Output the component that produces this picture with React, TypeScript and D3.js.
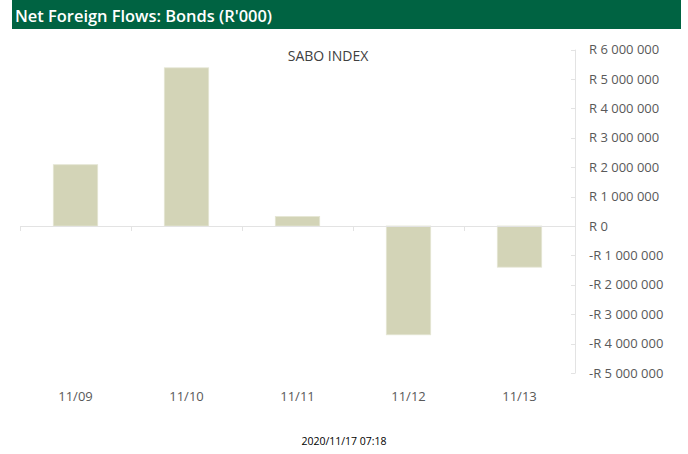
import React from "react";
import * as d3 from "d3";

const categories = ["11/09", "11/10", "11/11", "11/12", "11/13"];
const values = [2085000, 5380000, 320000, -3700000, -1400000];
const yTicks = [6000000, 5000000, 4000000, 3000000, 2000000, 1000000, 0, -1000000, -2000000, -3000000, -4000000, -5000000];
const title = "Net Foreign Flows: Bonds (R'000)";
const chartTitle = "SABO INDEX";
const timestamp = "2020/11/17 07:18";

const fmtNum = (v: number) => {
  const s = d3.format(",")(Math.abs(v)).replace(/,/g, " ");
  return (v < 0 ? "-R " : "R ") + s;
};

export default function App() {
  const W = 688, H = 454;
  const x = d3.scaleBand<string>().domain(categories).range([20, 575]).paddingInner(0.6).paddingOuter(0.3);
  const y = d3.scaleLinear().domain([-5000000, 6000000]).range([373, 49.6]);
  const y0 = y(0);
  const step = x.step();
  const font = "Open Sans, sans-serif";
  return (
    <svg width={W} height={H} style={{ position: "absolute", left: 0, top: 0, background: "#fff" }}>
      <rect x={12} y={0} width={669} height={29} fill="#006342" />
      <text x={15} y={22} fill="#fff" fontFamily={font} fontWeight={600} fontSize={16} textLength={257} lengthAdjust="spacingAndGlyphs">{title}</text>
      <text x={328} y={61} textAnchor="middle" fill="#404040" fontFamily={font} fontSize={14}>{chartTitle}</text>
      {/* y axis */}
      <line x1={575.5} x2={575.5} y1={y(6000000)} y2={y(-5000000)} stroke="#e3e3e3" />
      {yTicks.map((t) => (
        <g key={t}>
          <line x1={571} x2={575.5} y1={Math.round(y(t)) + 0.5} y2={Math.round(y(t)) + 0.5} stroke="#e3e3e3" />
          <text x={589} y={y(t) + 4.5} fill="#595959" fontFamily={font} fontSize={13}>{fmtNum(t)}</text>
        </g>
      ))}
      {/* bars */}
      {categories.map((c, i) => {
        const v = values[i];
        const top = Math.min(y(v), y0);
        const h = Math.abs(y(v) - y0);
        return <rect key={c} x={x(c)} y={top} width={x.bandwidth()} height={h} fill="#d3d4b7" stroke="#e4e5d3" strokeWidth={0.8} />;
      })}
      {/* zero line and category ticks */}
      <line x1={20} x2={575.5} y1={Math.round(y0) + 0.5} y2={Math.round(y0) + 0.5} stroke="#e3e3e3" />
      {d3.range(categories.length + 1).map((i) => {
        const xx = Math.round(20 + i * step) + 0.5;
        return <line key={i} x1={xx} x2={xx} y1={y0} y2={y0 + 5} stroke="#e3e3e3" />;
      })}
      {categories.map((c) => (
        <text key={c} x={(x(c) as number) + x.bandwidth() / 2} y={401} textAnchor="middle" fill="#595959" fontFamily={font} fontSize={13}>{c}</text>
      ))}
      <text x={344} y={445} textAnchor="middle" fill="#000" fontFamily={font} fontSize={10.5}>{timestamp}</text>
    </svg>
  );
}
